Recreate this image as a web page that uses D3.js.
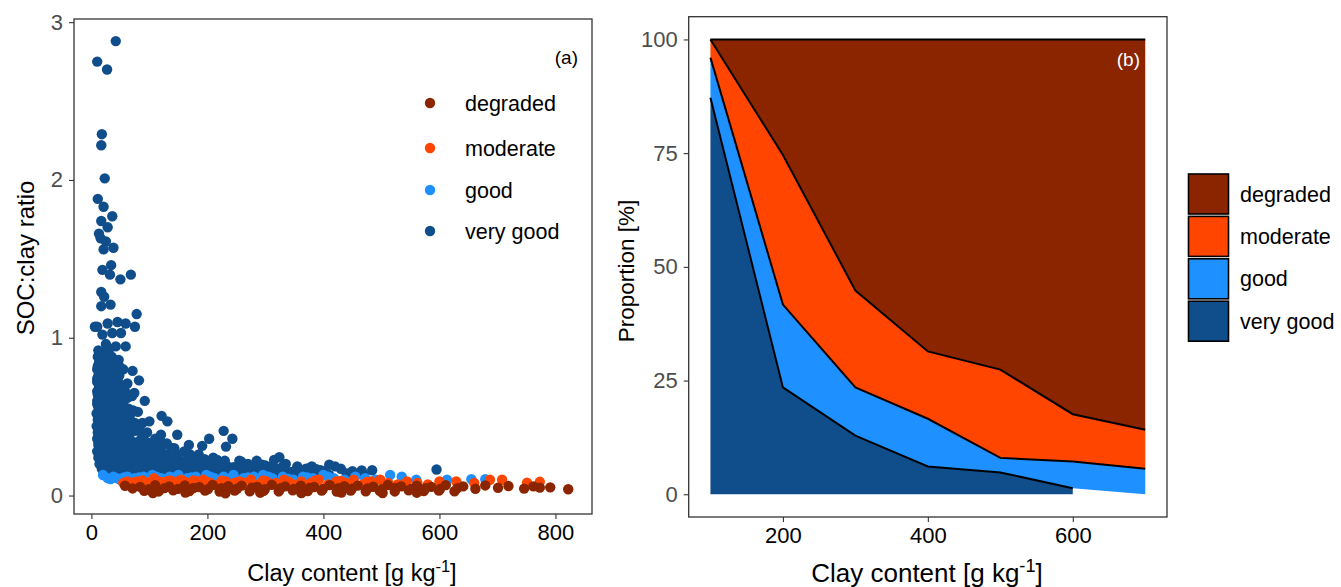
<!DOCTYPE html>
<html>
<head>
<meta charset="utf-8">
<script src="https://cdn.jsdelivr.net/npm/d3@7"></script>
<style>
  body { margin: 0; background: #fff; }
  text { font-family: "Liberation Sans", Arial, sans-serif; }
</style>
</head>
<body>
<div id="chart"></div>
<script>
// ---- data ----
const classes = ["degraded", "moderate", "good", "very good"]
const colors = ["#8B2500", "#FF4500", "#1E90FF", "#104E8B"]

// panel (a): [clay g/kg, SOC:clay ratio]
const veryGoodPts = [
  [42,2.88],[10,2.75],[27,2.70],[18,2.29],[17,2.22],[23,2.01],[11,1.88],[21,1.83],[36,1.77],[17,1.74],[28,1.70],[13,1.66],[16,1.63],[25,1.61],[38,1.57],[21,1.56],[34,1.46],[19,1.43],[32,1.40],[50,1.37],[68,1.40],[17,1.29],[22,1.26],[33,1.21],[17,1.20],[78,1.15],[6,1.07],[10,1.07],[28,1.09],[45,1.10],[59,1.09],[75,1.07],[19,1.02],[36,1.03],[51,1.03],[25,0.96],[42,0.945],[59,0.945],
  [12,0.92],[20,0.91],[31,0.93],[15,0.90],[24,0.90],
  [11,0.88],[18,0.87],[26,0.89],[35,0.88],[47,0.86],[14,0.86],[22,0.86],[30,0.86],[40,0.86],
  [13,0.84],[22,0.83],[30,0.85],[40,0.82],[11,0.82],[19,0.82],[27,0.82],[36,0.82],[48,0.82],
  [10,0.80],[17,0.79],[25,0.81],[33,0.78],[55,0.80],[14,0.78],[22,0.78],[31,0.78],[42,0.78],
  [12,0.76],[20,0.75],[29,0.77],[38,0.74],[48,0.76],[10,0.74],[17,0.74],[26,0.74],[35,0.74],[45,0.74],
  [10,0.72],[16,0.71],[24,0.73],[32,0.70],[43,0.72],[62,0.71],[13,0.70],[20,0.70],[28,0.70],[38,0.70],[52,0.70],
  [13,0.68],[21,0.67],[28,0.69],[37,0.66],[52,0.68],[10,0.66],[16,0.66],[24,0.66],[32,0.66],[43,0.66],[58,0.66],
  [11,0.64],[18,0.63],[26,0.65],[35,0.62],[45,0.64],[70,0.63],[13,0.62],[21,0.62],[29,0.62],[38,0.62],[50,0.62],[62,0.62],
  [10,0.60],[15,0.59],[22,0.61],[30,0.58],[40,0.60],[55,0.59],[10,0.58],[17,0.58],[25,0.58],[34,0.58],[45,0.58],
  [12,0.56],[19,0.55],[27,0.57],[36,0.54],[48,0.56],[64,0.55],[14,0.54],[21,0.54],[30,0.54],[40,0.54],[53,0.54],[72,0.54],
  [9,0.52],[16,0.51],[23,0.53],[31,0.50],[42,0.52],[58,0.51],[80,0.53],[12,0.50],[19,0.50],[27,0.50],[37,0.50],[50,0.50],[66,0.50],
  [11,0.48],[18,0.47],[26,0.49],[35,0.46],[46,0.48],[60,0.47],[88,0.46],[13,0.46],[21,0.46],[29,0.46],[40,0.46],[53,0.46],[75,0.46],
  [9,0.44],[15,0.43],[22,0.45],[30,0.42],[40,0.44],[52,0.43],[70,0.44],[12,0.42],[19,0.42],[27,0.42],[36,0.42],[46,0.42],[60,0.42],[82,0.42],
  [11,0.40],[18,0.39],[25,0.41],[33,0.38],[44,0.40],[58,0.39],[75,0.41],[96,0.40],[13,0.38],[21,0.38],[29,0.38],[38,0.38],[50,0.38],[64,0.38],[88,0.38],
  [10,0.36],[16,0.35],[23,0.37],[31,0.34],[40,0.36],[50,0.35],[65,0.37],[84,0.35],[110,0.36],[12,0.34],[19,0.34],[27,0.34],[35,0.34],[45,0.34],[56,0.34],[72,0.34],[95,0.34],[120,0.34],
  [12,0.32],[19,0.31],[27,0.33],[36,0.30],[46,0.32],[58,0.31],[72,0.33],[90,0.31],[105,0.32],[130,0.33],[14,0.30],[22,0.30],[31,0.30],[40,0.30],[51,0.30],[63,0.30],[78,0.30],[95,0.30],[115,0.30],[140,0.30],
  [10,0.28],[17,0.27],[24,0.29],[32,0.26],[42,0.28],[53,0.27],[66,0.29],[80,0.27],[98,0.28],[118,0.27],[138,0.29],[160,0.28],[13,0.26],[21,0.26],[29,0.26],[38,0.26],[48,0.26],[60,0.26],[74,0.26],[90,0.26],[108,0.26],[126,0.26],[148,0.26],[170,0.26],[185,0.26],
  [12,0.24],[19,0.23],[27,0.25],[36,0.22],[46,0.24],[58,0.23],[70,0.25],[85,0.23],[100,0.24],[115,0.22],[132,0.24],[150,0.23],[172,0.25],[195,0.23],[210,0.24],
  [16,0.22],[24,0.22],[33,0.22],[43,0.22],[54,0.22],[66,0.22],[80,0.22],[94,0.22],[110,0.22],[126,0.22],[142,0.22],[162,0.22],[182,0.22],[208,0.22],[230,0.22],[255,0.22],[285,0.22],
  [14,0.20],[22,0.19],[30,0.21],[40,0.18],[50,0.20],[62,0.19],[75,0.21],[90,0.19],[105,0.20],[122,0.18],[140,0.20],[158,0.19],[176,0.21],[200,0.19],[222,0.20],[245,0.18],[270,0.20],[300,0.19],[335,0.20],
  [20,0.185],[28,0.185],[36,0.185],[45,0.185],[55,0.185],[68,0.185],[80,0.185],[96,0.185],[112,0.185],[130,0.185],[150,0.185],[168,0.185],[190,0.185],[212,0.185],[235,0.185],[258,0.185],[282,0.185],[310,0.185],[330,0.185],[355,0.185],[380,0.185],[420,0.185],
  [18,0.17],[26,0.16],[36,0.17],[46,0.15],[57,0.17],[68,0.16],[82,0.17],[96,0.15],[112,0.17],[128,0.16],[145,0.17],[163,0.15],[182,0.17],[205,0.16],[228,0.17],[250,0.15],[275,0.17],[298,0.16],[320,0.17],[345,0.15],[370,0.17],[395,0.16],[430,0.17],
  [22,0.155],[30,0.155],[40,0.155],[52,0.155],[64,0.155],[76,0.155],[90,0.155],[106,0.155],[122,0.155],[138,0.155],[155,0.155],[172,0.155],[195,0.155],[218,0.155],[240,0.155],[262,0.155],[285,0.155],[308,0.155],[330,0.155],[352,0.155],[375,0.155],[400,0.155],[450,0.155],
  [24,0.14],[32,0.13],[42,0.14],[55,0.13],[70,0.14],[85,0.13],[100,0.14],[120,0.13],[140,0.14],[165,0.13],[190,0.14],[215,0.13],[240,0.14],[265,0.13],[290,0.14],[315,0.13],[340,0.14],[360,0.13],[385,0.14],[410,0.13],[440,0.14],[470,0.13],
  [28,0.12],[40,0.115],[60,0.12],
  [71,0.79],[82,0.73],[74,0.65],[92,0.60],[121,0.505],[131,0.47],[100,0.47],[120,0.385],[148,0.385],[228,0.41],[243,0.36],[203,0.36],[191,0.315],[168,0.32],[122,0.315],[143,0.30],[232,0.31],[324,0.243],[315,0.226],[375,0.174],[410,0.195],[292,0.19],[258,0.216],[217,0.226],[177,0.226],[102,0.247],[466,0.159],[595,0.165],[484,0.16],[294,0.195],[256,0.195],[388,0.167]
]
const goodPts = [
  [20,0.13],[28,0.11],[38,0.12],[50,0.10],[62,0.12],[75,0.11],[90,0.12],[105,0.13],[120,0.11],[135,0.12],[150,0.13],[165,0.11],[180,0.12],[198,0.13],[212,0.11],[228,0.12],[245,0.13],[262,0.11],[280,0.12],[296,0.13],[312,0.11],[330,0.12],[348,0.10],[365,0.12],[382,0.11],[400,0.13],[418,0.11],[436,0.10],[455,0.12],[472,0.11],[490,0.10],[515,0.13],[535,0.12],[560,0.10],[613,0.10],[655,0.104],[679,0.104],
  [33,0.105],[44,0.11],[56,0.115],[68,0.105],[82,0.115],[97,0.105],[112,0.12],[128,0.105],[142,0.115],[172,0.115],[205,0.12],[237,0.105],[270,0.115],[305,0.12],[340,0.105],[372,0.115],[408,0.12]
]
const moderatePts = [
  [55,0.08],[68,0.07],[80,0.09],[95,0.08],[108,0.11],[118,0.07],[130,0.09],[142,0.08],[155,0.10],[168,0.07],[182,0.09],[193,0.10],[205,0.08],[218,0.07],[232,0.09],[246,0.08],[261,0.082],[275,0.10],[288,0.07],[302,0.09],[318,0.08],[332,0.10],[348,0.07],[362,0.09],[378,0.08],[392,0.10],[408,0.07],[422,0.09],[438,0.08],[452,0.10],[468,0.07],[482,0.09],[498,0.10],[512,0.08],[528,0.07],[544,0.09],[562,0.08],[580,0.07],[600,0.09],[629,0.09],[660,0.08],[687,0.10],[708,0.10],[751,0.082],[773,0.087],
  [62,0.09],[74,0.085],[88,0.095],[102,0.088],[114,0.092],[124,0.084],[136,0.096],[148,0.09],[162,0.086],[176,0.095],[198,0.088],[225,0.094],[255,0.09],[296,0.095],[340,0.088],[385,0.094],[430,0.092],[475,0.086]
]
const degradedPts = [
  [58,0.062],[84,0.055],[110,0.066],[134,0.058],[161,0.064],[186,0.054],[209,0.067],[236,0.059],[259,0.063],[286,0.055],[311,0.068],[334,0.058],[361,0.062],[384,0.054],[411,0.066],[436,0.059],[459,0.063],[486,0.056],[511,0.067],[534,0.058],[561,0.062],[586,0.055],[611,0.066],[641,0.058],[679,0.064],[719,0.060],
  [71,0.045],[99,0.040],[126,0.047],[149,0.042],[176,0.048],[201,0.041],[224,0.046],[251,0.043],[276,0.049],[299,0.040],[326,0.046],[349,0.042],[376,0.048],[399,0.041],[426,0.047],[449,0.043],[476,0.045],[501,0.040],[524,0.048],[551,0.042],[576,0.046],[601,0.041],[631,0.047],[662,0.043],[701,0.049],[746,0.044],
  [91,0.030],[116,0.026],[141,0.033],[169,0.028],[196,0.031],[221,0.025],[247,0.032],[273,0.027],[297,0.030],[323,0.026],[347,0.033],[373,0.028],[397,0.031],[423,0.025],[447,0.032],[473,0.027],[497,0.030],[523,0.026],[547,0.033],[573,0.028],[599,0.031],[626,0.027],
  [106,0.016],[162,0.019],[231,0.014],[291,0.018],[362,0.015],[431,0.019],[502,0.016],[561,0.018],
  [822,0.040],[791,0.052],[762,0.058],[773,0.050]
]

// panel (b): proportion [%] per clay class
const clayBins = [100, 200, 300, 400, 500, 600, 700]
const propVeryGood = [87.2, 23.5, 12.9, 6.1, 4.8, 1.3, null]
const propGood = [8.8, 18.2, 10.6, 10.5, 3.2, 5.9, 5.6]
const propModerate = [4.0, 32.9, 21.3, 14.8, 19.4, 10.4, 8.6]
const propDegraded = [0, 25.4, 55.2, 68.6, 72.6, 82.4, 85.8]

const ticksA_x = [0, 200, 400, 600, 800]
const ticksA_y = [0, 1, 2, 3]
const ticksB_x = [200, 400, 600]
const ticksB_y = [0, 25, 50, 75, 100]

// ---- svg ----
const svg = d3.select("#chart").append("svg")
  .attr("width", 1341).attr("height", 587)

function styleAxis(g, color) {
  g.select(".domain").remove()
  g.selectAll(".tick line").attr("stroke", "#333").attr("stroke-width", 1.1)
  g.selectAll(".tick text").attr("fill", color).attr("font-size", 22)
    .attr("font-family", "Liberation Sans, Arial, sans-serif")
}

function xTitle(x, y, size) {
  const t = svg.append("text").attr("x", x).attr("y", y)
    .attr("text-anchor", "middle").attr("font-size", size).attr("fill", "#000")
  t.append("tspan").text("Clay content [g kg")
  t.append("tspan").attr("dy", -size * 0.38).attr("font-size", size * 0.7).text("-1")
  t.append("tspan").attr("dy", size * 0.38).text("]")
}

// ---- panel (a) ----
const A = {left: 74, right: 592, top: 19, bottom: 514}
const xA = d3.scaleLinear().domain([-30, 863]).range([A.left, A.right])
const yA = d3.scaleLinear().domain([-0.117, 3.02]).range([A.bottom, A.top])

const series = [
  {pts: veryGoodPts, col: colors[3]},
  {pts: goodPts, col: colors[2]},
  {pts: moderatePts, col: colors[1]},
  {pts: degradedPts, col: colors[0]}
]
const gA = svg.append("g")
series.forEach(s => {
  gA.selectAll(null).data(s.pts).enter().append("circle")
    .attr("cx", d => xA(d[0]))
    .attr("cy", d => yA(d[1]))
    .attr("r", 5.2)
    .attr("fill", s.col)
})

svg.append("rect").attr("x", A.left).attr("y", A.top)
  .attr("width", A.right - A.left).attr("height", A.bottom - A.top)
  .attr("fill", "none").attr("stroke", "#333").attr("stroke-width", 1.3)

svg.append("g").attr("transform", `translate(0,${A.bottom})`)
  .call(d3.axisBottom(xA).tickValues(ticksA_x).tickSize(5).tickPadding(5))
  .call(g => styleAxis(g, "#000"))
svg.append("g").attr("transform", `translate(${A.left},0)`)
  .call(d3.axisLeft(yA).tickValues(ticksA_y).tickFormat(d3.format("d")).tickSize(5).tickPadding(6))
  .call(g => styleAxis(g, "#4d4d4d"))

xTitle(352, 581, 23.5)
svg.append("text").attr("transform", "translate(34,258) rotate(-90)")
  .attr("text-anchor", "middle").attr("font-size", 24).text("SOC:clay ratio")
svg.append("text").attr("x", 578).attr("y", 64).attr("text-anchor", "end")
  .attr("font-size", 19).text("(a)")

// legend (a)
const legA = svg.append("g")
classes.forEach((c, i) => {
  const yy = [103, 148, 190, 231][i]
  legA.append("circle").attr("cx", 430).attr("cy", yy).attr("r", 5.2).attr("fill", colors[i])
  legA.append("text").attr("x", 465).attr("y", yy).attr("dy", "0.35em")
    .attr("font-size", 21.5).attr("fill", "#000").text(c)
})

// ---- panel (b) ----
const B = {left: 688.7, right: 1167, top: 16.7, bottom: 517}
const xB = d3.scaleLinear().domain([70, 730]).range([B.left, B.right])
const yB = d3.scaleLinear().domain([-5, 105]).range([B.bottom, B.top])

const rows = clayBins.map((c, i) => ({
  clay: c,
  "very good": propVeryGood[i],
  good: propGood[i],
  moderate: propModerate[i],
  degraded: propDegraded[i]
}))
const stackOrder = ["very good", "good", "moderate", "degraded"]
const stacked = d3.stack().keys(stackOrder).value((d, k) => d[k] || 0)(rows)

const area = d3.area()
  .defined((d, i) => d.key !== "very good" || rows[i]["very good"] !== null)
  .x((d, i) => xB(clayBins[i]))
  .y0(d => yB(d[0]))
  .y1(d => yB(d[1]))
const upper = d3.line()
  .defined((d, i) => d.key !== "very good" || rows[i]["very good"] !== null)
  .x((d, i) => xB(clayBins[i]))
  .y(d => yB(d[1]))

const gB = svg.append("g")
stacked.forEach(layer => {
  layer.forEach(p => { p.key = layer.key })
  const col = colors[classes.indexOf(layer.key)]
  gB.append("path").datum(layer).attr("d", area).attr("fill", col)
})
stacked.forEach(layer => {
  gB.append("path").datum(layer).attr("d", upper)
    .attr("fill", "none").attr("stroke", "#000").attr("stroke-width", 2)
})

svg.append("rect").attr("x", B.left).attr("y", B.top)
  .attr("width", B.right - B.left).attr("height", B.bottom - B.top)
  .attr("fill", "none").attr("stroke", "#333").attr("stroke-width", 1.3)

svg.append("g").attr("transform", `translate(0,${B.bottom})`)
  .call(d3.axisBottom(xB).tickValues(ticksB_x).tickSize(5).tickPadding(5))
  .call(g => styleAxis(g, "#000"))
svg.append("g").attr("transform", `translate(${B.left},0)`)
  .call(d3.axisLeft(yB).tickValues(ticksB_y).tickSize(5).tickPadding(6))
  .call(g => styleAxis(g, "#4d4d4d"))

xTitle(927, 582, 26)
svg.append("text").attr("transform", "translate(634,271) rotate(-90)")
  .attr("text-anchor", "middle").attr("font-size", 22.5).text("Proportion [%]")
svg.append("text").attr("x", 1140).attr("y", 66).attr("text-anchor", "end")
  .attr("font-size", 19).attr("fill", "#fff").text("(b)")

// legend (b)
const legB = svg.append("g")
classes.forEach((c, i) => {
  const yy = 174 + i * 42.4
  legB.append("rect").attr("x", 1188.5).attr("y", yy).attr("width", 40).attr("height", 40)
    .attr("fill", colors[i]).attr("stroke", "#000").attr("stroke-width", 1.6)
  legB.append("text").attr("x", 1240).attr("y", yy + 20).attr("dy", "0.35em")
    .attr("font-size", 21.5).attr("fill", "#000").text(c)
})
</script>
</body>
</html>
